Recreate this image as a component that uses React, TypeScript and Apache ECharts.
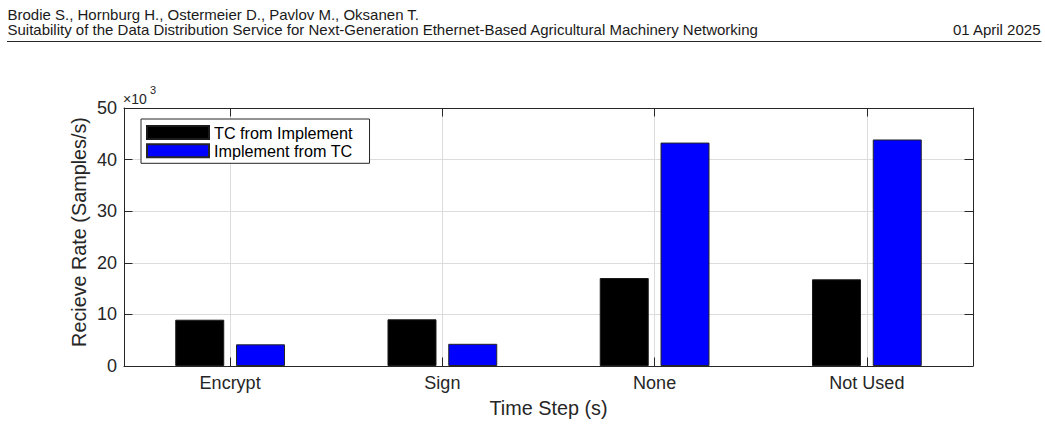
import React, { useEffect, useRef } from "react";
import * as echarts from "echarts";

const categories = ["Encrypt", "Sign", "None", "Not Used"];
const tcFromImplement = [8970, 9050, 17050, 16800];
const implementFromTC = [4200, 4300, 43300, 43900];
const seriesNames = ["TC from Implement", "Implement from TC"];
const yTicks = { min: 0, max: 50000, interval: 10000 };
const yTitle = "Recieve Rate (Samples/s)";
const xTitle = "Time Step (s)";

const headerLine1 = "Brodie S., Hornburg H., Ostermeier D., Pavlov M., Oksanen T.";
const headerLine2 =
  "Suitability of the Data Distribution Service for Next-Generation Ethernet-Based Agricultural Machinery Networking";
const headerDate = "01 April 2025";

const FONT = "'Liberation Sans', Arial, Helvetica, sans-serif";
const AX = "#262626";
const GRID = "#dcdcdc";

export default function App() {
  const ref = useRef<HTMLDivElement>(null);
  useEffect(() => {
    if (!ref.current) return;
    const chart = echarts.init(ref.current, null, { renderer: "svg" });
    const commonTick = { show: true, inside: true, length: 8.5, lineStyle: { color: AX, width: 1 } };
    chart.setOption({
      animation: false,
      backgroundColor: "#ffffff",
      textStyle: { fontFamily: FONT },
      grid: { left: 124, top: 108, width: 849, height: 258, containLabel: false },
      legend: {
        orient: "vertical",
        left: 141,
        top: 119,
        padding: [5.5, 17, 4.5, 5],
        itemGap: 2.3,
        itemWidth: 62,
        itemHeight: 13,
        borderColor: AX,
        borderWidth: 1,
        backgroundColor: "#ffffff",
        textStyle: { fontSize: 16.2, color: "#000", fontFamily: FONT, lineHeight: 16 },
        data: seriesNames.map((n) => ({ name: n, icon: "rect" })),
      },
      xAxis: [
        {
          type: "category",
          data: categories,
          position: "bottom",
          name: xTitle,
          nameLocation: "middle",
          nameGap: 32,
          nameTextStyle: { fontSize: 19.8, color: AX, fontFamily: FONT },
          axisLine: { show: true, lineStyle: { color: AX, width: 1 } },
          axisTick: { ...commonTick, alignWithLabel: true },
          axisLabel: { fontSize: 18, color: AX, margin: 8, fontFamily: FONT },
          splitLine: { show: true, alignWithLabel: true, lineStyle: { color: GRID, width: 1 } },
        },
        {
          type: "category",
          data: categories,
          position: "top",
          axisLine: { show: true, onZero: false, lineStyle: { color: AX, width: 1 } },
          axisTick: { ...commonTick, alignWithLabel: true },
          axisLabel: { show: false },
          splitLine: { show: false },
        },
      ],
      yAxis: [
        {
          type: "value",
          ...yTicks,
          position: "left",
          axisLine: { show: true, lineStyle: { color: AX, width: 1 } },
          axisTick: commonTick,
          axisLabel: {
            fontSize: 18,
            color: AX,
            margin: 7,
            fontFamily: FONT,
            formatter: (v: number) => String(v / 1000),
          },
          splitLine: { show: true, lineStyle: { color: GRID, width: 1 } },
        },
        {
          type: "value",
          ...yTicks,
          position: "right",
          axisLine: { show: true, onZero: false, lineStyle: { color: AX, width: 1 } },
          axisTick: commonTick,
          axisLabel: { show: false },
          splitLine: { show: false },
        },
      ],
      series: [
        {
          name: seriesNames[0],
          type: "bar",
          data: tcFromImplement,
          barWidth: 49,
          barGap: "24%",
          itemStyle: { color: "#000000", borderColor: "#1a1a1a", borderWidth: 1 },
        },
        {
          name: seriesNames[1],
          type: "bar",
          data: implementFromTC,
          barWidth: 49,
          barGap: "24%",
          itemStyle: { color: "#0000ff", borderColor: "#262626", borderWidth: 1 },
        },
      ],
      graphic: [
        {
          type: "text",
          x: 7.5,
          y: 14.2,
          style: { text: headerLine1, font: `15px ${FONT}`, fill: "#1a1a1a", textVerticalAlign: "middle" },
        },
        {
          type: "text",
          x: 7.5,
          y: 29.2,
          style: { text: headerLine2, font: `15px ${FONT}`, fill: "#1a1a1a", textVerticalAlign: "middle" },
        },
        {
          type: "text",
          x: 1040.5,
          y: 29.2,
          style: {
            text: headerDate,
            font: `15px ${FONT}`,
            fill: "#1a1a1a",
            textAlign: "right",
            textVerticalAlign: "middle",
          },
        },
        {
          type: "line",
          shape: { x1: 7, y1: 41.5, x2: 1041.5, y2: 41.5 },
          style: { stroke: "#262626", lineWidth: 1.2 },
        },
        {
          type: "text",
          x: 123,
          y: 98.5,
          style: { text: "×10", font: `14px ${FONT}`, fill: AX, textVerticalAlign: "middle" },
        },
        {
          type: "text",
          x: 150,
          y: 90.2,
          style: { text: "3", font: `11px ${FONT}`, fill: AX, textVerticalAlign: "middle" },
        },
        {
          type: "text",
          x: 79,
          y: 232,
          rotation: Math.PI / 2,
          style: {
            text: yTitle,
            font: `19.8px ${FONT}`,
            fill: AX,
            textAlign: "center",
            textVerticalAlign: "middle",
          },
        },
      ],
    });
    return () => chart.dispose();
  }, []);
  return (
    <div
      ref={ref}
      style={{ position: "absolute", left: 0, top: 0, width: 1045, height: 425, background: "#fff" }}
    />
  );
}
